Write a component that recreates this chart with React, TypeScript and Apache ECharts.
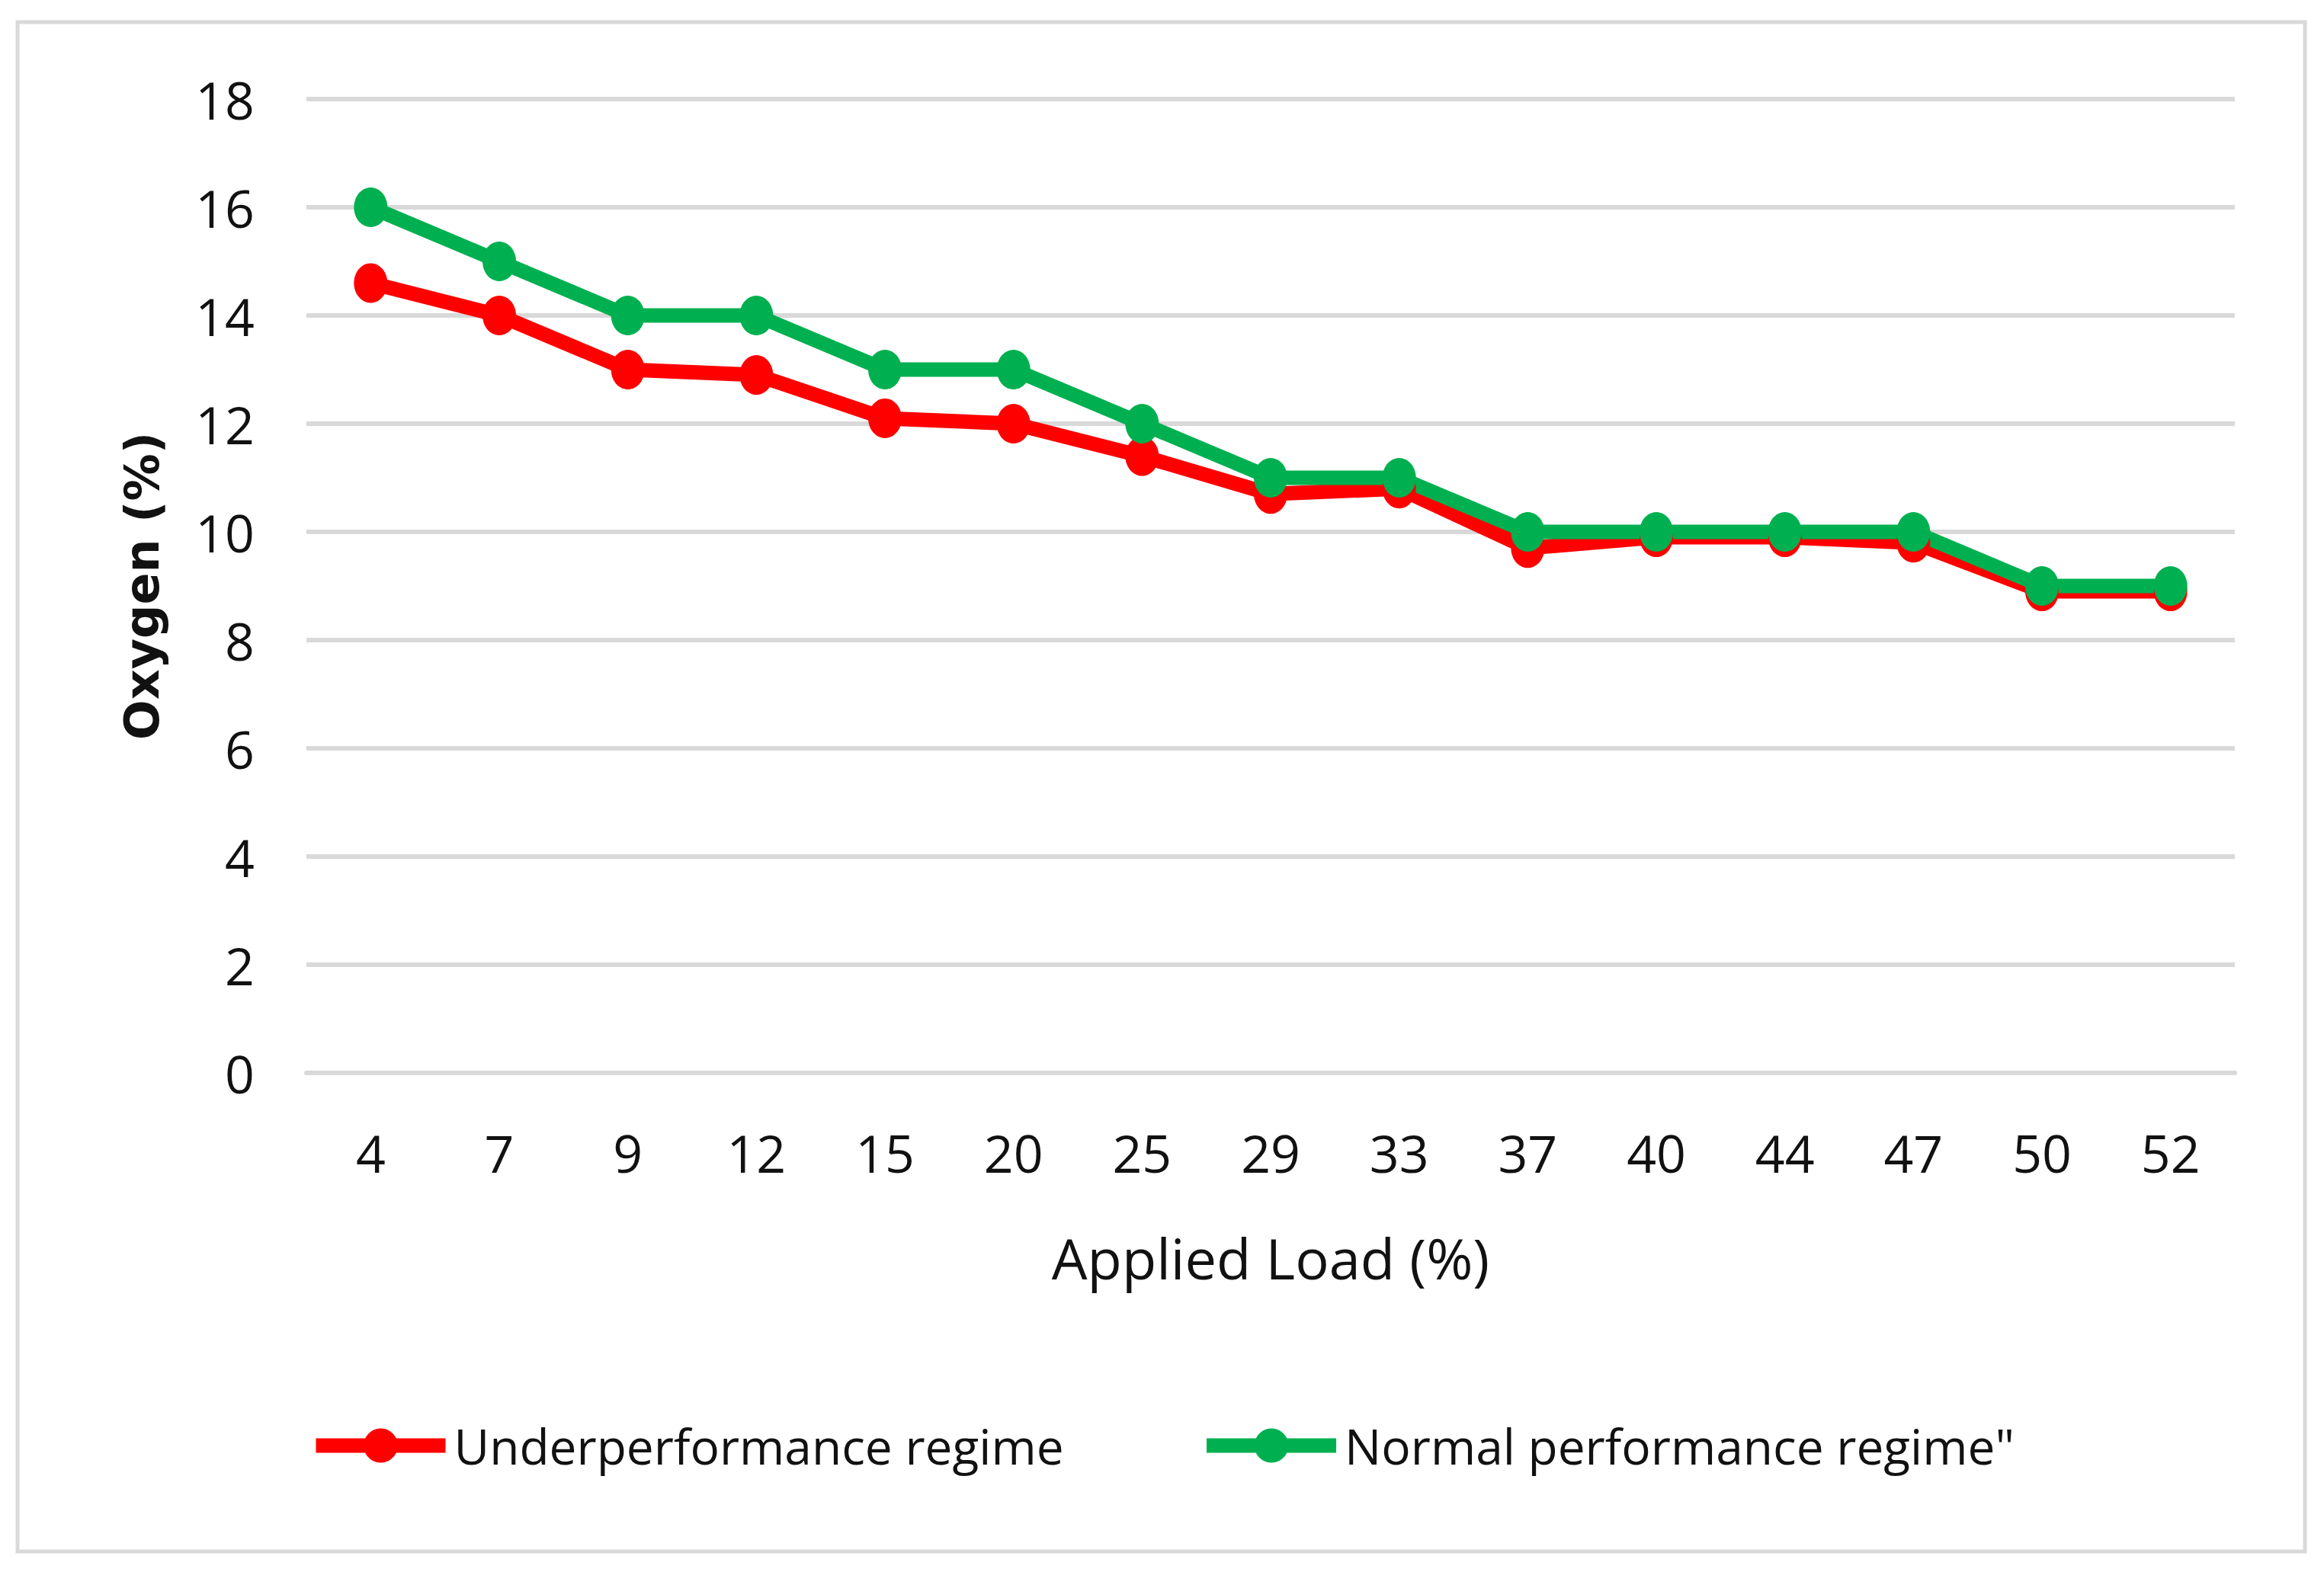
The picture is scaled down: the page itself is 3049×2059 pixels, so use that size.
import React, { useEffect, useRef } from "react";
import * as echarts from "echarts";

const categories = ["4", "7", "9", "12", "15", "20", "25", "29", "33", "37", "40", "44", "47", "50", "52"];
const underperformance = [14.6, 14.0, 13.0, 12.9, 12.1, 12.0, 11.4, 10.7, 10.8, 9.7, 9.9, 9.9, 9.8, 8.9, 8.9];
const normalPerformance = [16, 15, 14, 14, 13, 13, 12, 11, 11, 10, 10, 10, 10, 9, 9];
const seriesNames = ["Underperformance regime", "Normal performance regime\""];
const xTitle = "Applied Load (%)";
const yTitle = "Oxygen (%)";

const W = 3049;
const H = 2059;
const FONT = "'Open Sans', sans-serif";

export default function App() {
  const ref = useRef<HTMLDivElement>(null);
  useEffect(() => {
    if (!ref.current) return;
    const chart = echarts.init(ref.current, undefined, { renderer: "svg" });
    const mk = (name: string, data: number[], color: string) => ({
      name,
      type: "line",
      data,
      symbol: "circle",
      symbolSize: [44, 52],
      lineStyle: { color, width: 19 },
      itemStyle: { color },
      z: 3,
    });
    chart.setOption({
      animation: false,
      backgroundColor: "#ffffff",
      graphic: [
        {
          type: "rect",
          shape: { x: 23, y: 29, width: 3001, height: 2007 },
          style: { fill: "none", stroke: "#d9d9d9", lineWidth: 5 },
          silent: true,
        },
      ],
      grid: { left: 402, right: 117, top: 130, bottom: 651 },
      legend: {
        left: 400,
        top: 1860,
        width: 2600,
        itemWidth: 170,
        itemHeight: 56,
        itemGap: 178,
        lineStyle: { width: 19 },
        textStyle: { fontFamily: FONT, fontSize: 64, color: "#111", padding: [0, 0, 0, 6] },
        data: seriesNames,
      },
      xAxis: {
        type: "category",
        data: categories,
        boundaryGap: true,
        axisLine: { show: true, lineStyle: { color: "#d9d9d9", width: 6 } },
        axisTick: { show: false },
        axisLabel: { fontFamily: FONT, fontSize: 68, color: "#111", margin: 70 },
        name: xTitle,
        nameLocation: "middle",
        nameGap: 205,
        nameTextStyle: { fontFamily: FONT, fontSize: 74, color: "#111" },
      },
      yAxis: {
        type: "value",
        min: 0,
        max: 18,
        interval: 2,
        axisLine: { show: false },
        axisTick: { show: false },
        splitLine: { show: true, lineStyle: { color: "#d9d9d9", width: 6 } },
        axisLabel: { fontFamily: FONT, fontSize: 68, color: "#111", margin: 68 },
        name: yTitle,
        nameLocation: "middle",
        nameGap: 185,
        nameTextStyle: { fontFamily: "'DejaVu Sans', sans-serif", fontSize: 62, fontWeight: "bold", color: "#111" },
      },
      series: [
        mk(seriesNames[0], underperformance, "#ff0000"),
        mk(seriesNames[1], normalPerformance, "#00b050"),
      ],
    });
    return () => chart.dispose();
  }, []);
  return (
    <div
      ref={ref}
      style={{ position: "fixed", left: 0, top: 0, width: W, height: H, background: "#fff" }}
    />
  );
}
